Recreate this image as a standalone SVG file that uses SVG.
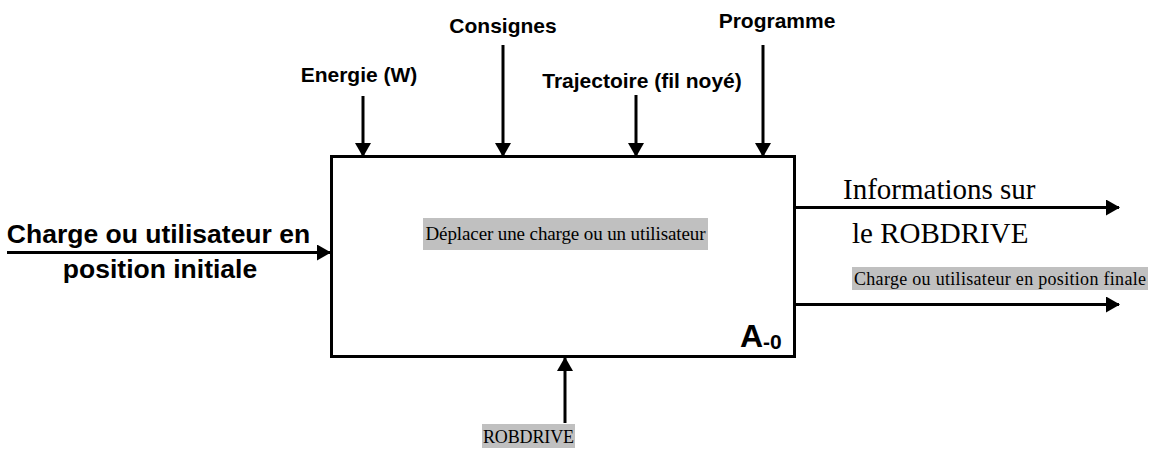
<svg xmlns="http://www.w3.org/2000/svg" width="1158" height="449" viewBox="0 0 1158 449">
<style>
.sans{font-family:"Liberation Sans",Arial,sans-serif;font-weight:bold;fill:#000}
.serif{font-family:"Liberation Serif","Times New Roman",serif;fill:#000}
.hl{fill:#c0c0c0}
.ln{stroke:#000;stroke-width:3;fill:none;marker-end:url(#ah)}
</style>
<defs>
<marker id="ah" markerUnits="userSpaceOnUse" markerWidth="14" markerHeight="16" refX="13" refY="8" orient="auto">
<path d="M0,0 L14,8 L0,16 z" fill="#000"/>
</marker>
</defs>
<rect width="1158" height="449" fill="#fff"/>
<g id="box">
<rect x="331.5" y="156.5" width="463" height="200" fill="#fff" stroke="#000" stroke-width="3"/>
<rect class="hl" x="423" y="218" width="285" height="32"/>
<text class="serif" x="565.5" y="240" font-size="19" text-anchor="middle" textLength="280">Déplacer une charge ou un utilisateur</text>
<text class="sans" x="740" y="347" font-size="32">A<tspan font-size="21" dy="2">-0</tspan></text>
</g>
<g id="connectors">
<line class="ln" x1="363" y1="96" x2="363" y2="156"/>
<line class="ln" x1="503" y1="45" x2="503" y2="156"/>
<line class="ln" x1="636" y1="95" x2="636" y2="156"/>
<line class="ln" x1="763" y1="45" x2="763" y2="156"/>
<line class="ln" x1="7" y1="252.5" x2="330" y2="252.5"/>
<line class="ln" x1="796" y1="207.5" x2="1119" y2="207.5"/>
<line class="ln" x1="796" y1="304.5" x2="1119" y2="304.5"/>
<line class="ln" x1="565" y1="423" x2="565" y2="358"/>
</g>
<g id="energie"><text class="sans" x="359" y="82" font-size="21" text-anchor="middle">Energie (W)</text></g>
<g id="consignes"><text class="sans" x="503" y="33" font-size="21" text-anchor="middle">Consignes</text></g>
<g id="trajectoire"><text class="sans" x="642" y="88" font-size="21" text-anchor="middle">Trajectoire (fil noyé)</text></g>
<g id="programme"><text class="sans" x="777" y="28" font-size="21" text-anchor="middle">Programme</text></g>
<g id="input">
<text class="sans" x="158.5" y="243" font-size="26.5" text-anchor="middle">Charge ou utilisateur en</text>
<text class="sans" x="160" y="278" font-size="26.5" text-anchor="middle">position initiale</text>
</g>
<g id="out-info">
<text class="serif" x="843" y="199" font-size="29">Informations sur</text>
<text class="serif" x="852" y="243" font-size="29">le ROBDRIVE</text>
</g>
<g id="out-final">
<rect class="hl" x="852" y="267" width="296" height="23"/>
<text class="serif" x="1000" y="285" font-size="18" text-anchor="middle" textLength="292">Charge ou utilisateur en position finale</text>
</g>
<g id="robdrive">
<rect class="hl" x="482" y="424" width="93" height="24"/>
<text class="serif" x="528.5" y="443" font-size="18" text-anchor="middle" textLength="91">ROBDRIVE</text>
</g>
</svg>
